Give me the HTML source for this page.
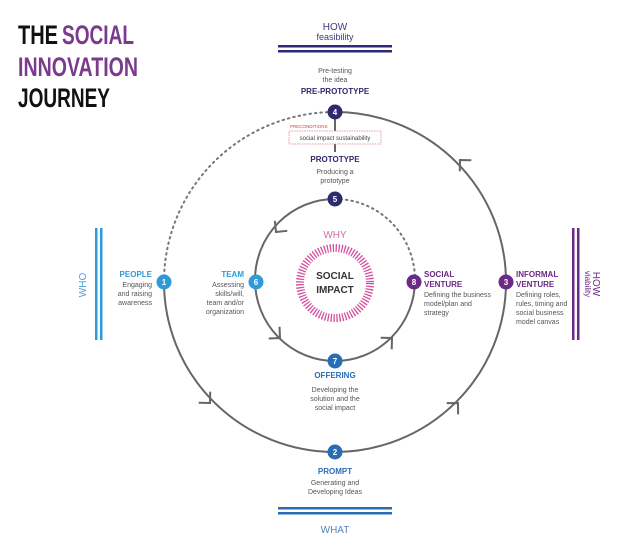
<!DOCTYPE html>
<html><head><meta charset="utf-8"><style>
body{margin:0;background:#fff}
svg{display:block}
text{font-family:"Liberation Sans",sans-serif}
.t{font-size:7px;fill:#555}
.h{font-size:8px;font-weight:bold}
.title{font-family:"Liberation Sans Narrow","Liberation Sans",sans-serif;font-weight:bold;font-size:27px}
</style></head><body>
<svg width="635" height="550" viewBox="0 0 635 550">
<text class="title" x="18" y="44" fill="#111" textLength="40" lengthAdjust="spacingAndGlyphs">THE</text>
<text class="title" x="62" y="44" fill="#7a3a8e" textLength="72" lengthAdjust="spacingAndGlyphs">SOCIAL</text>
<text class="title" x="18" y="76" fill="#7a3a8e" textLength="120" lengthAdjust="spacingAndGlyphs">INNOVATION</text>
<text class="title" x="18" y="107" fill="#111" textLength="92" lengthAdjust="spacingAndGlyphs">JOURNEY</text>

<text x="335" y="30" text-anchor="middle" font-size="10" fill="#3a3a80">HOW</text>
<text x="335" y="40" text-anchor="middle" font-size="9" fill="#3a3a80">feasibility</text>
<rect x="278" y="45" width="114" height="2.5" fill="#2e2a7a"/>
<rect x="278" y="50" width="114" height="2.5" fill="#2e2a7a"/>
<rect x="278" y="507" width="114" height="2.5" fill="#2a6db5"/>
<rect x="278" y="512" width="114" height="2.5" fill="#2a6db5"/>
<text x="335" y="533" text-anchor="middle" font-size="10" fill="#5a80b8">WHAT</text>
<rect x="95" y="228" width="2.5" height="112" fill="#2e9ad8"/>
<rect x="100" y="228" width="2.5" height="112" fill="#2e9ad8"/>
<text transform="translate(86,285) rotate(-90)" text-anchor="middle" font-size="10" fill="#4aa0d8">WHO</text>
<rect x="572" y="228" width="2.5" height="112" fill="#6a2a85"/>
<rect x="577" y="228" width="2.5" height="112" fill="#6a2a85"/>
<text transform="translate(593,284) rotate(90)" text-anchor="middle" font-size="10" fill="#6a2a85">HOW</text>
<text transform="translate(585,284) rotate(90)" text-anchor="middle" font-size="8" fill="#6a2a85">viability</text>

<path d="M164,282 A171,170 0 0 1 335,112" fill="none" stroke="#777" stroke-width="2" stroke-dasharray="1.5 4" stroke-linecap="round"/>
<path d="M335,112 A171,170 0 1 1 164,282" fill="none" stroke="#666" stroke-width="2"/>
<path d="M335,199 A80,81 0 0 1 415,280" fill="none" stroke="#777" stroke-width="2" stroke-dasharray="1.5 4" stroke-linecap="round"/>
<path d="M415,280 A80,81 0 1 1 335,199" fill="none" stroke="#666" stroke-width="2"/>
<g fill="none" stroke="#666" stroke-width="2">
<path transform="translate(460,160) rotate(-134)" d="M-8,-8 L0,0 L-8,8"/>
<path transform="translate(458,403) rotate(-45.5)" d="M-8,-8 L0,0 L-8,8"/>
<path transform="translate(210,403) rotate(46)" d="M-8,-8 L0,0 L-8,8"/>
<path transform="translate(276,232) rotate(129)" d="M-8,-8 L0,0 L-8,8"/>
<path transform="translate(280,338) rotate(42.5)" d="M-8,-8 L0,0 L-8,8"/>
<path transform="translate(392,338) rotate(-43.5)" d="M-8,-8 L0,0 L-8,8"/>
</g>

<circle cx="335" cy="283" r="35" fill="none" stroke="#d44f9e" stroke-width="8" stroke-dasharray="1.3 1.6"/>
<text x="335" y="238" text-anchor="middle" font-size="10" fill="#d66aaa">WHY</text>
<text x="335" y="279" text-anchor="middle" font-size="10" font-weight="bold" fill="#333">SOCIAL</text>
<text x="335" y="293" text-anchor="middle" font-size="10" font-weight="bold" fill="#333">IMPACT</text>

<line x1="335" y1="118" x2="335" y2="152" stroke="#666" stroke-width="2"/>
<rect x="289" y="131" width="92" height="13" fill="#fff" stroke="#e08080" stroke-width="0.8" stroke-dasharray="1.5 1"/>
<text x="290" y="128" font-size="4.5" fill="#d04040">PRECONDITIONS</text>
<text x="335" y="140" text-anchor="middle" font-size="6" fill="#444">social impact  sustainability</text>

<g font-size="8" font-weight="bold" fill="#fff" text-anchor="middle">
<circle cx="335" cy="112" r="7.5" fill="#2e2a6e"/><text x="335" y="115">4</text>
<circle cx="335" cy="199" r="7.5" fill="#2e2a6e"/><text x="335" y="202">5</text>
<circle cx="335" cy="452" r="7.5" fill="#2a6db5"/><text x="335" y="455">2</text>
<circle cx="335" cy="361" r="7.5" fill="#2a6db5"/><text x="335" y="364">7</text>
<circle cx="164" cy="282" r="7.5" fill="#2e9ad8"/><text x="164" y="285">1</text>
<circle cx="256" cy="282" r="7.5" fill="#2e9ad8"/><text x="256" y="285">6</text>
<circle cx="414" cy="282" r="7.5" fill="#6a2a85"/><text x="414" y="285">8</text>
<circle cx="506" cy="282" r="7.5" fill="#6a2a85"/><text x="506" y="285">3</text>
</g>

<g text-anchor="middle">
<text class="t" x="335" y="73">Pre-testing</text>
<text class="t" x="335" y="82">the idea</text>
<text class="h" x="335" y="94" fill="#2e2a6e">PRE-PROTOTYPE</text>
<text class="h" x="335" y="162" fill="#2e2a6e">PROTOTYPE</text>
<text class="t" x="335" y="174">Producing a</text>
<text class="t" x="335" y="183">prototype</text>
<text class="h" x="335" y="378" fill="#2a6db5">OFFERING</text>
<text class="t" x="335" y="392">Developing the</text>
<text class="t" x="335" y="401">solution and the</text>
<text class="t" x="335" y="410">social impact</text>
<text class="h" x="335" y="474" fill="#2a6db5">PROMPT</text>
<text class="t" x="335" y="485">Generating and</text>
<text class="t" x="335" y="494">Developing Ideas</text>
</g>
<g text-anchor="end">
<text class="h" x="152" y="277" fill="#2e9ad8">PEOPLE</text>
<text class="t" x="152" y="287">Engaging</text>
<text class="t" x="152" y="296">and raising</text>
<text class="t" x="152" y="305">awareness</text>
<text class="h" x="244" y="277" fill="#2e9ad8">TEAM</text>
<text class="t" x="244" y="287">Assessing</text>
<text class="t" x="244" y="296">skills/will,</text>
<text class="t" x="244" y="305">team and/or</text>
<text class="t" x="244" y="314">organization</text>
</g>
<text class="h" x="424" y="277" fill="#6a2a85">SOCIAL</text>
<text class="h" x="424" y="287" fill="#6a2a85">VENTURE</text>
<text class="t" x="424" y="297">Defining the business</text>
<text class="t" x="424" y="306">model/plan and</text>
<text class="t" x="424" y="315">strategy</text>
<text class="h" x="516" y="277" fill="#6a2a85">INFORMAL</text>
<text class="h" x="516" y="287" fill="#6a2a85">VENTURE</text>
<text class="t" x="516" y="297">Defining roles,</text>
<text class="t" x="516" y="306">rules, timing and</text>
<text class="t" x="516" y="315">social business</text>
<text class="t" x="516" y="324">model canvas</text>
</svg>
</body></html>
